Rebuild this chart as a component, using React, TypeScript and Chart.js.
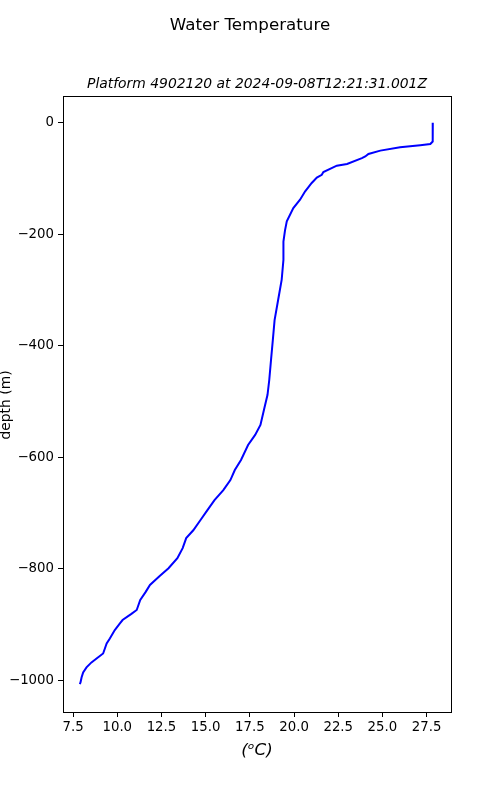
import React, { useEffect, useRef } from "react";
import { Chart, registerables } from "chart.js";

Chart.register(...registerables);

const TITLE = "Water Temperature";
const SUBTITLE = "Platform 4902120 at 2024-09-08T12:21:31.001Z";
const X_LABEL = "(ᵒC)";
const Y_LABEL = "depth (m)";

const temperature = [
  27.85, 27.85, 27.84, 27.71, 27.14, 26.0, 24.88, 24.21, 24.03, 23.84, 23.0, 22.42, 21.66, 21.57,
  21.29, 21.0, 20.63, 20.34, 19.96, 19.59, 19.49, 19.4, 19.4, 19.3, 19.1, 18.9, 18.8, 18.7, 18.6,
  18.5, 18.3, 18.1, 17.8, 17.4, 17.0, 16.65, 16.4, 16.0, 15.5, 15.1, 14.7, 14.3, 13.9, 13.7, 13.4,
  12.9, 12.4, 11.85, 11.6, 11.3, 11.1, 10.8, 10.3, 10.15, 9.86, 9.58, 9.4, 9.2, 8.83, 8.54, 8.26,
  8.07, 7.98, 7.92, 7.88,
];
const depth = [
  0, -20, -33.6, -38.2, -40.2, -43.8, -50, -56, -60.5, -63.4, -74, -77, -88.5, -93.4,
  -98.2, -108, -123, -138, -153, -177, -193, -213, -246, -282, -318, -354, -390, -425, -461,
  -488, -515, -542, -560, -578, -605, -623, -641, -659, -677, -695, -713, -731, -745, -763, -781,
  -799, -813, -829, -842, -856, -874, -881, -892, -898, -910, -925, -934, -952, -961, -968, -977,
  -986, -995, -1004, -1007,
];

const xTicks = [7.5, 10, 12.5, 15, 17.5, 20, 22.5, 25, 27.5];
const yTicks = [-1000, -800, -600, -400, -200, 0];

const FONT = "'DejaVu Sans', sans-serif";

export default function App() {
  const ref = useRef<HTMLCanvasElement | null>(null);

  useEffect(() => {
    if (!ref.current) return;
    const points = temperature.map((t, i) => ({ x: t, y: depth[i] }));

    const textPlugin = {
      id: "texts",
      afterDraw(chart: any) {
        const ctx = chart.ctx;
        const a = chart.chartArea;
        ctx.save();
        ctx.strokeStyle = "#000";
        ctx.lineWidth = 1;
        ctx.strokeRect(Math.round(a.left) + 0.5, Math.round(a.top) + 0.5, Math.round(a.right - a.left), Math.round(a.bottom - a.top));
        ctx.fillStyle = "#000";
        ctx.textAlign = "center";
        ctx.textBaseline = "middle";
        ctx.font = `16.7px ${FONT}`;
        ctx.fillText(TITLE, 250, 25.5);
        ctx.font = `italic 13.9px ${FONT}`;
        ctx.fillText(SUBTITLE, (a.left + a.right) / 2, 84);
        ctx.font = `italic 16.7px ${FONT}`;
        ctx.fillText(X_LABEL, (a.left + a.right) / 2, 751);
        ctx.font = `13.9px ${FONT}`;
        ctx.translate(6, (a.top + a.bottom) / 2 + 1);
        ctx.rotate(-Math.PI / 2);
        ctx.fillText(Y_LABEL, 0, 0);
        ctx.restore();
      },
    };

    const chart = new Chart(ref.current, {
      type: "scatter",
      data: {
        datasets: [
          {
            data: points,
            showLine: true,
            borderColor: "#0000ff",
            backgroundColor: "#0000ff",
            borderWidth: 2,
            pointRadius: 0,
            tension: 0,
          },
        ],
      },
      options: {
        animation: false,
        responsive: false,
        maintainAspectRatio: false,
        layout: { padding: { top: 96, left: 0, right: 49, bottom: 0 } },
        plugins: { legend: { display: false }, tooltip: { enabled: false }, title: { display: false } },
        scales: {
          x: {
            type: "linear",
            min: 6.93,
            max: 28.88,
            afterFit: (s: any) => { s.height = 88; },
            afterBuildTicks: (s: any) => { s.ticks = xTicks.map((v) => ({ value: v })); },
            ticks: {
              color: "#000",
              font: { family: FONT, size: 13.3 },
              padding: 3,
              maxRotation: 0,
              autoSkip: false,
              callback: (v: any) => Number(v).toFixed(1),
            },
            grid: { display: true, drawOnChartArea: false, drawTicks: true, tickLength: 5, color: "#000" },
            border: { display: true, color: "#000" },
          },
          y: {
            type: "linear",
            min: -1057,
            max: 48,
            afterFit: (s: any) => { s.width = 63; },
            afterBuildTicks: (s: any) => { s.ticks = yTicks.map((v) => ({ value: v })); },
            ticks: {
              color: "#000",
              font: { family: FONT, size: 13.3 },
              padding: 4,
              autoSkip: false,
              callback: (v: any) => String(v).replace("-", "\u2212"),
            },
            grid: { display: true, drawOnChartArea: false, drawTicks: true, tickLength: 5, color: "#000" },
            border: { display: true, color: "#000" },
          },
        },
      },
      plugins: [textPlugin],
    } as any);
    return () => chart.destroy();
  }, []);

  return (
    <div style={{ position: "absolute", left: 0, top: 0, width: 500, height: 800, background: "#fff" }}>
      <canvas ref={ref} width={500} height={800} style={{ width: 500, height: 800 }} />
    </div>
  );
}
